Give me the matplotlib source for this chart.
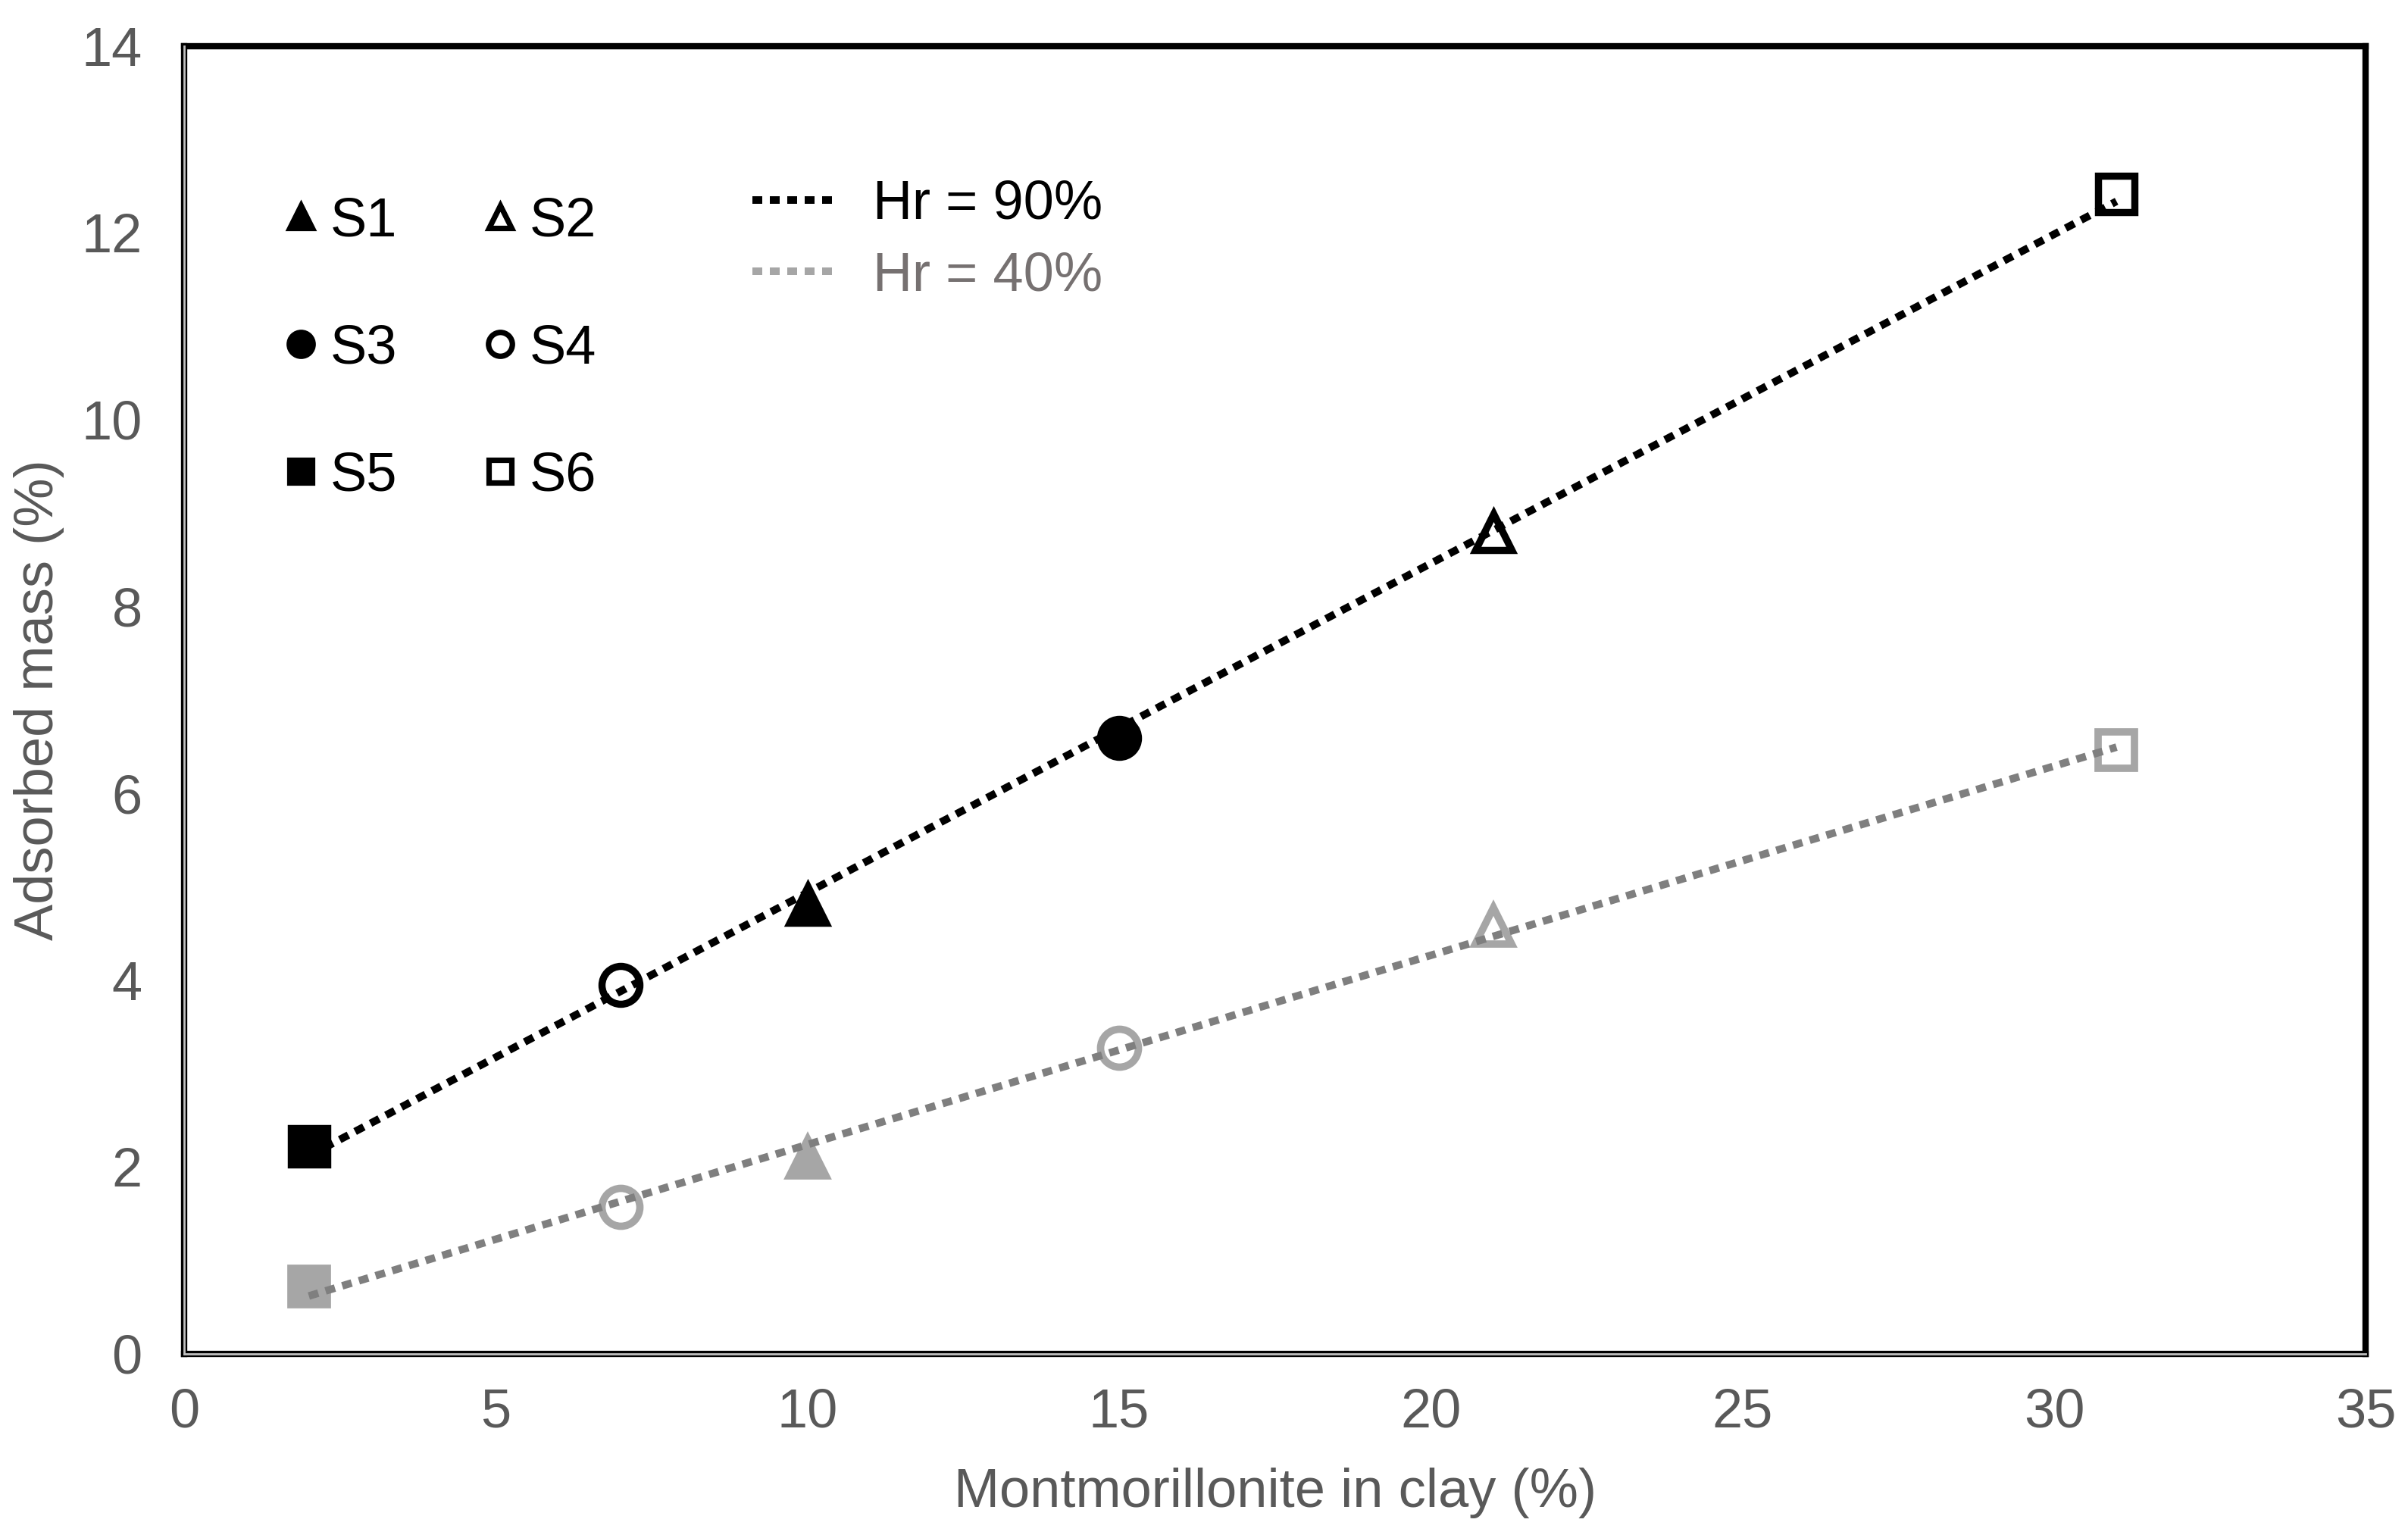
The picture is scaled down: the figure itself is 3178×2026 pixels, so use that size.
import numpy as np
import matplotlib.pyplot as plt
from matplotlib.lines import Line2D

plt.rcParams['font.family'] = ['Liberation Sans', 'DejaVu Sans']

# montmorillonite content of each sample (%)
samples = ["S1", "S2", "S3", "S4", "S5", "S6"]
montmo = [10, 21, 15, 7, 2, 31]
# adsorbed mass (%) at two relative humidities
mass_hr90 = [4.81, 8.80, 6.59, 3.95, 2.22, 12.42]
mass_hr40 = [2.10, 4.58, 3.28, 1.57, 0.72, 6.46]

markers = {"S1": "^", "S2": "^", "S3": "o", "S4": "o", "S5": "s", "S6": "s"}
fill90 = {"S1": True, "S2": False, "S3": True, "S4": False, "S5": True, "S6": False}
fill40 = {"S1": True, "S2": False, "S3": False, "S4": False, "S5": True, "S6": False}
msize = {"^": 17, "o": 18, "s": 17}

fig = plt.figure(figsize=(15.89, 10.13), dpi=200)
ax = fig.add_axes([0.0765, 0.118, 0.906, 0.852])

light = "#a6a6a6"
dots = (0, (1.3, 1.0))
for i, s in enumerate(samples):
    m = markers[s]
    ax.plot(montmo[i], mass_hr90[i], marker=m, ms=msize[m], ls="none",
            mfc="black" if fill90[s] else "white", mec="black", mew=3.4, zorder=3)
    ax.plot(montmo[i], mass_hr40[i], marker=m, ms=msize[m], ls="none",
            mfc=light if fill40[s] else "white", mec=light, mew=3.5, zorder=3)

# linear trendlines
xs = np.array([min(montmo), max(montmo)])
for ys, col in ((mass_hr90, "black"), (mass_hr40, "#7f7f7f")):
    p = np.polyfit(montmo, ys, 1)
    ax.plot(xs, np.polyval(p, xs), color=col, lw=3.6, ls=dots,
            dash_capstyle="butt", zorder=4)

ax.set_xlim(0, 35)
ax.set_ylim(0, 14)
ax.set_xticks(range(0, 36, 5))
ax.set_yticks(range(0, 15, 2))
ax.tick_params(length=0, labelsize=26, labelcolor="#595959")
ax.tick_params(axis="y", pad=20)
ax.tick_params(axis="x", pad=16)
ax.set_xlabel("Montmorillonite in clay (%)", fontsize=26, color="#595959", labelpad=14)
ax.set_ylabel("Adsorbed mass (%)", fontsize=26, color="#595959", labelpad=8)
for sp in ax.spines.values():
    sp.set_linewidth(3)
    sp.set_color("black")
ax.axvline(0, color="#bfbfbf", lw=1, zorder=6, clip_on=False)
ax.axhline(0, color="#bfbfbf", lw=1, zorder=6, clip_on=False)

# sample legend
order = ["S1", "S3", "S5", "S2", "S4", "S6"]
handles = [Line2D([], [], marker=markers[s], ls="none", ms=msize[markers[s]] * 0.63,
                  mfc="black" if fill90[s] else "white", mec="black", mew=2.6)
           for s in order]
leg1 = ax.legend(handles, order, ncol=2, frameon=False, fontsize=26,
                 loc="upper left", bbox_to_anchor=(0.0448, 0.885),
                 labelspacing=1.4, handlelength=0.7, handletextpad=0.18,
                 columnspacing=1.53, borderpad=0, borderaxespad=0)
ax.add_artist(leg1)

hr_handles = [Line2D([], [], color="black", lw=3.6, ls=dots),
              Line2D([], [], color=light, lw=3.6, ls=dots)]
ax.legend(hr_handles, ["Hr = 90%", "Hr = 40%"], frameon=False, fontsize=26,
          loc="upper left", bbox_to_anchor=(0.2604, 0.898),
          labelcolor=["black", "#767171"], labelspacing=0.38,
          handlelength=1.55, handletextpad=0.65, borderpad=0, borderaxespad=0)

fig.savefig("out.png", dpi=200)
